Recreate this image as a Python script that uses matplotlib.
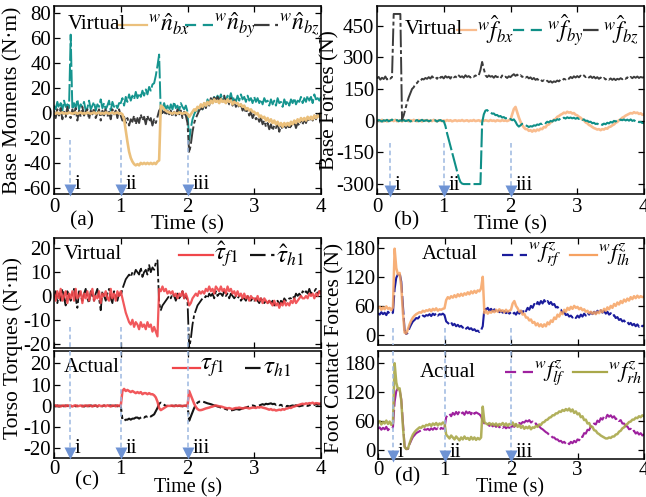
import numpy as np
import matplotlib
matplotlib.use('Agg')
import matplotlib.pyplot as plt
from matplotlib.lines import Line2D

plt.rcParams['font.family'] = ['Liberation Serif', 'DejaVu Serif']
plt.rcParams['mathtext.fontset'] = 'stix'
plt.rcParams['axes.unicode_minus'] = False

DT = 0.025  # sample spacing (s)

# ---------------- (a) virtual base moments ----------------
n_bx = [0,-0.5,0.5,-0.5,0,0.5,-0.5,0,-0.5,0.5,
        0,-0.5,0,0.5,-0.5,0,0.5,-0.5,0,-0.5,
        0.5,0,-0.5,0,0.5,-0.5,0,0.5,-0.5,0,
        -0.5,0.5,0,-0.5,0,0.5,-0.5,0,0.5,-0.5,
        0,-1,-5,-14,-23,-31,-36,-39,-41,-42,
        -41,-42,-40,-41,-40,-41,-40,-41,-40,-41,
        -40,-41,-39,-38,6,5,3,2,1,0.5,
        0,-0.5,0.5,0,-0.5,0.5,0,-0.5,0,0.5,
        -0.5,-3,-1,1,3,2,5,4,7,5,
        8,6,9,7,10,8,11,9,10,8,
        11,9,10,8,11,9,10,7,9,8,
        8,6,7,5,6,3,4,2,3,1,
        1,-1,0,-3,-2,-4,-3,-6,-4,-7,
        -5,-8,-6,-9,-7,-10,-8,-11,-8,-10,
        -8,-10,-7,-9,-6,-8,-5,-7,-4,-6,
        -4,-6,-3,-5,-3,-5,-2,-4,-2,-3,
        -2]
n_by = [6,3,9,4,8,2,10,5,7,4,
        63,3,8,4,11,3,7,5,9,2,
        4,10,3,6,9,2,7,5,11,4,
        8,3,6,10,2,9,5,7,4,8,
        8,12,6,13,9,15,10,14,11,17,
        12,16,13,18,14,19,15,21,18,23,
        24,30,38,47,-1,4,8,3,6,2,
        7,3,9,4,6,2,8,5,3,6,
        1,-22,-12,-5,-1,2,0,4,6,3,
        8,5,11,7,12,8,13,9,14,10,
        15,10,13,9,14,11,16,10,13,9,
        14,10,15,11,13,9,14,10,12,8,
        13,9,12,8,11,7,12,9,10,6,
        11,7,10,6,12,8,9,5,11,7,
        10,6,11,8,12,7,10,9,13,8,
        12,9,14,10,13,8,15,11,12,10,
        13]
n_bz = [2,-4,3,-2,4,-5,1,-3,5,-2,
        -4,3,-1,4,-6,2,-3,5,-2,1,
        3,-5,2,-1,4,-4,0,3,-6,2,
        -2,4,-3,1,-5,3,-1,2,-4,3,
        -2,-6,-3,-8,-4,-10,-5,-7,-2,-9,
        -4,-8,-1,-6,-3,-9,-2,-7,-4,-10,
        -5,-8,-3,2,4,0,3,-2,2,-1,
        2,-3,1,-2,3,-1,2,-4,1,-2,
        -8,-32,-25,-15,-8,-4,-1,2,4,3,
        7,4,9,6,12,8,14,9,13,10,
        12,9,14,8,11,7,12,6,10,5,
        8,4,7,2,5,0,3,-2,1,-4,
        -1,-5,-3,-7,-4,-9,-6,-11,-8,-13,
        -9,-14,-10,-12,-8,-15,-10,-13,-9,-12,
        -8,-13,-10,-11,-7,-12,-8,-10,-6,-9,
        -5,-8,-4,-7,-3,-6,-2,-5,-1,-3,
        -1]

# ---------------- (b) virtual base forces ----------------
f_bx = [0,3,-2,4,-3,1,-4,2,-1,3,
        -2,4,-3,0,2,-4,3,-1,1,-3,
        2,-2,4,-1,-3,3,0,-4,2,-1,
        3,-3,1,-2,4,-1,-3,2,0,-2,
        1,-2,3,-1,2,-3,0,2,-2,1,
        -1,3,-2,0,2,-3,1,-1,3,-2,
        0,2,-3,1,-1,2,0,-2,3,-1,
        1,-3,2,0,-2,3,-1,1,-2,2,
        5,30,55,65,40,15,-5,-20,-32,-40,
        -40,-48,-45,-52,-44,-50,-42,-46,-38,-40,
        -30,-32,-20,-18,-8,-5,5,8,18,22,
        28,32,38,35,42,38,40,34,36,28,
        25,18,14,6,2,-8,-12,-20,-24,-30,
        -35,-38,-42,-40,-45,-40,-42,-36,-38,-30,
        -28,-22,-18,-10,-6,2,6,14,18,24,
        28,32,36,34,40,36,38,32,35,28,
        30]
f_by = [-2,3,0,-4,2,-1,4,-3,1,5,
        -2,0,3,-3,2,-1,4,-2,0,3,
        -4,1,2,-1,3,-3,0,4,-2,1,
        2,-3,0,3,-1,2,-4,1,3,-2,
        -2,-25,-60,-90,-120,-150,-180,-210,-240,-270,
        -290,-298,-300,-300,-300,-300,-300,-300,-300,-300,
        -300,-300,-300,-10,30,48,50,42,40,33,
        34,26,27,20,22,15,17,11,13,7,
        8,2,6,-5,-20,-28,-22,-15,-18,-22,
        -25,-30,-26,-28,-22,-24,-18,-20,-14,-16,
        -9,-12,-5,-8,-1,-4,3,0,7,4,
        11,8,14,10,16,12,15,11,14,9,
        13,8,10,4,6,-1,0,-6,-5,-12,
        -10,-16,-14,-19,-15,-20,-14,-17,-10,-13,
        -6,-9,-1,-4,3,0,5,2,6,1,
        5,0,6,-1,2,-4,-2,-7,-6,-11,
        -10]
f_bz = [200,207,194,203,197,209,195,204,199,206,
        505,505,505,505,505,5,25,55,85,110,
        130,150,158,175,178,190,187,198,195,202,
        198,206,199,210,201,207,198,212,203,208,
        200,211,204,208,199,213,205,209,202,214,
        206,210,203,215,207,211,204,212,208,214,
        209,215,240,278,245,215,206,214,208,211,
        203,212,206,209,200,214,205,208,202,210,
        206,214,220,212,218,209,215,207,212,204,
        208,200,205,196,202,193,198,190,195,187,
        191,184,189,182,187,180,186,183,190,186,
        194,190,198,195,203,198,207,201,210,204,
        211,205,213,207,214,206,212,204,210,202,
        208,200,206,198,204,196,202,195,201,194,
        200,193,199,192,198,195,201,196,203,198,
        205,199,207,201,208,203,209,202,207,204,
        206]

# ---------------- (c) torso torques ----------------
tauV_f1 = [1,-2,2,-1,3,-2,0,2,-3,1,
           -1,2,-2,3,-1,0,2,-3,1,-1,
           2,-2,1,3,-2,0,-1,2,-3,1,
           0,2,-1,-2,3,-1,1,-2,2,0,
           2,-1,-4,-7,-9,-11,-12,-10,-13,-11,
           -12,-14,-11,-13,-12,-14,-11,-13,-12,-15,
           -13,-15,-17,3,2,4,2,3,1,2,
           1,2,0,1,-1,1,0,2,-1,1,
           -1,-4,-3,-1,0,1,0,2,1,2,
           1,3,2,4,2,3,1,4,3,2,
           4,2,3,1,4,2,3,1,2,0,
           2,0,1,-1,1,-1,0,-2,0,-1,
           -1,-2,0,-2,-1,-3,-1,-2,-3,-2,
           -3,-4,-2,-4,-3,-5,-3,-4,-2,-4,
           -3,-4,-2,-3,-1,-3,-2,-1,0,-1,
           -1,0,-1,1,0,1,-1,1,0,2,
           1]
tauV_h1 = [-1,2,-3,1,-2,3,-1,-4,2,0,
           -2,1,3,-1,-5,2,0,-2,1,3,
           -1,-3,2,0,-2,1,3,-1,-6,2,
           0,-2,1,3,-1,-3,2,0,-2,1,
           0,3,5,7,8,9,8,10,9,11,
           10,9,12,8,10,11,9,13,10,12,
           11,14,15,-3,-6,-4,-3,-2,-1,0,
           -1,1,0,-2,1,-1,0,2,-1,0,
           -2,-22,-18,-12,-8,-6,-4,-3,-2,-1,
           -1,0,-1,1,0,1,-1,2,0,1,
           1,0,2,0,1,-1,1,0,-1,0,
           -1,0,-2,-1,-1,-2,0,-1,-2,-1,
           -2,-1,-2,-3,-1,-2,-3,-2,-3,-2,
           -3,-2,-4,-3,-2,-4,-2,-3,-1,-2,
           -2,-1,-1,0,-1,1,0,1,0,2,
           1,2,1,3,1,2,2,3,1,2,
           2]
tauA_f1 = [0,0.3,-0.2,0.2,-0.3,0.1,0.2,-0.2,0.3,-0.1,
           0.2,-0.3,0.1,0.3,-0.2,0,0.2,-0.3,0.1,0.2,
           -0.2,0.3,0,-0.3,0.2,0.1,-0.2,0.3,-0.1,0,
           0.2,-0.2,0.3,0,-0.3,0.2,0.1,-0.2,0.3,0,
           0,7,8,7,7.5,7,6.5,7,6.5,6,
           6.5,6,6.5,5.5,6,6,5.5,6,5.5,5.5,
           5,4,2,-1,-2,-1.5,-1,-0.5,0,0,
           0,0.2,-0.2,0.1,0,0.2,-0.1,0,0.1,0,
           0,7,5,3,1,-0.5,-1.5,-2,-2,-1.8,
           -1.5,-1.2,-1,-0.8,-0.5,-0.3,0,0.2,0,-0.2,
           -0.3,-0.5,-0.8,-1,-1.2,-1,-1.3,-1.5,-1.2,-1,
           -1,-0.8,-1,-1.2,-1,-0.8,-1,-1.2,-1,-0.8,
           -0.8,-1,-0.6,-0.8,-0.5,-0.8,-1,-1.2,-1.5,-1.8,
           -1.5,-2,-1.8,-2.2,-2,-1.8,-2,-1.5,-1.8,-1.3,
           -1.2,-0.8,-1,-0.5,-0.3,0,0.3,0.5,0.8,1,
           0.8,1.2,1,1.3,1.2,1.5,1,1.3,1.2,1,
           1.2]
tauA_h1 = [0,-0.2,0.2,-0.3,0.1,0,-0.2,0.2,-0.1,0.1,
           -0.2,0.1,0.2,-0.2,0,0.3,-0.1,0.1,-0.3,0,
           0.1,-0.2,0.2,0,-0.1,0.2,-0.3,0.1,0,-0.2,
           0.2,0,-0.2,0.1,0.2,-0.1,0,0.2,-0.2,0,
           0,-6.5,-7,-6.5,-6.5,-6,-6.5,-6,-6,-5.5,
           -5.5,-6,-5.5,-5,-5.5,-5,-5,-4.5,-5,-4.5,
           -4,-2.5,-1,1,1.5,1,0.5,0,0,0,
           0.1,-0.1,0,0.2,-0.1,0,0.1,-0.2,0,0.1,
           0,-7,-5,-3,-1,0.5,1.5,2,2,2,
           1.8,1.5,1.2,1,0.8,0.5,0.2,0,-0.3,-0.5,
           -0.8,-1,-1.2,-1.5,-1.8,-2,-2.1,-2,-1.8,-1.5,
           -1.6,-1.8,-1.5,-1.2,-1,-0.8,-0.5,-0.3,0,0.2,
           0,-0.3,0,0.2,0.5,0.8,0.5,1,0.8,1,
           1.2,0.8,1,0.5,0.8,0.3,0.5,0,0.2,-0.2,
           0,-0.3,0,0.2,0,0.3,0,-0.2,0,0.2,
           0,0.2,0,0.3,0.5,0.3,0.5,0.8,0.5,0.8,
           0.5]

# ---------------- (d) foot contact forces ----------------
f_rf = [45,42,47,43,46,41,48,44,43,46,
        95,118,125,128,110,60,10,2,5,15,
        22,28,31,35,34,38,36,40,38,41,
        40,43,39,44,41,45,40,43,42,44,
        41,28,25,22,26,20,23,18,21,17,
        19,15,18,13,16,12,14,10,12,8,
        9,6,10,18,55,52,56,50,54,49,
        53,48,52,47,50,46,49,45,48,44,
        47,43,46,42,48,44,50,46,53,49,
        56,52,60,56,64,60,68,63,70,65,
        72,66,70,64,68,62,64,57,58,52,
        52,46,47,41,43,38,40,36,39,35,
        40,36,42,38,44,40,46,42,47,43,
        48,44,50,45,51,46,50,44,48,42,
        45,39,41,35,37,31,33,28,30,25,
        27,22,25,20,23,18,22,17,21,18,
        20]
f_lh = [55,58,52,57,53,59,54,56,51,57,
        178,138,125,128,100,45,5,3,12,22,
        30,36,40,43,45,47,46,50,48,51,
        50,53,49,54,51,55,50,53,52,54,
        55,72,78,75,80,77,82,78,84,80,
        85,81,86,83,88,84,90,86,91,87,
        92,90,96,120,45,50,44,48,46,50,
        47,52,48,53,49,51,47,52,48,50,
        52,65,70,60,55,48,50,42,44,36,
        36,30,32,25,27,20,24,18,22,17,
        22,18,26,22,30,27,36,33,42,38,
        47,43,52,48,56,52,58,54,60,56,
        58,53,56,51,53,48,50,45,48,44,
        47,43,48,45,51,47,54,50,57,53,
        60,56,64,60,67,63,70,66,73,69,
        75,71,78,74,80,76,81,77,80,78,
        79]
f_lf = [44,47,42,46,43,48,41,45,44,47,
        100,122,128,125,105,55,8,2,2,12,
        20,27,31,35,37,39,41,40,43,42,
        44,41,45,42,46,43,45,41,46,44,
        45,68,72,75,70,77,73,79,74,80,
        75,78,73,80,76,79,74,81,75,78,
        76,74,70,60,55,52,54,50,53,49,
        52,48,51,47,50,46,49,45,48,46,
        47,50,48,53,51,56,54,58,57,61,
        59,62,57,59,54,55,50,49,45,43,
        40,37,35,31,30,26,26,22,22,18,
        19,15,17,13,16,12,17,14,19,16,
        22,20,28,27,35,34,42,41,49,48,
        55,53,61,58,66,63,70,66,73,69,
        72,67,70,64,66,60,62,55,55,49,
        49,43,44,38,40,34,37,32,35,30,
        33]
f_rh = [56,60,53,58,55,61,54,59,52,57,
        180,140,126,128,102,48,6,2,3,14,
        24,32,37,41,44,47,46,50,48,52,
        51,54,50,55,52,56,51,55,53,57,
        56,32,28,24,30,26,22,28,24,20,
        26,22,28,23,25,21,27,22,26,21,
        25,22,26,90,58,55,53,56,52,55,
        51,55,50,54,52,56,51,55,50,54,
        53,57,50,54,48,52,46,50,44,48,
        45,49,43,47,46,50,48,53,52,57,
        58,62,63,67,68,72,72,76,76,80,
        79,83,81,85,82,86,80,84,77,80,
        74,76,68,70,62,63,55,56,48,48,
        41,40,35,33,30,28,26,24,24,26,
        25,28,28,32,33,38,40,45,47,52,
        54,58,59,63,63,67,66,70,68,72,
        70]

event_labels = ['i', 'ii', 'iii']
events_a = [0.245, 1.0, 2.0]
events_b = [0.2, 1.0, 2.0]
events_c = [0.245, 1.0, 2.0]
events_d = [0.22, 1.0, 2.0]

t = np.arange(len(n_bx)) * DT

# colours
C_TAN = '#EBC07C'; C_TEAL = '#16958F'; C_GRAY = '#3C3C3C'
C_PEACH = '#F9BC8E'; C_TEAL2 = '#0F8F87'
C_RED = '#F0464A'; C_BLACK = '#141414'
C_BLUE = '#1B1C9C'; C_ORANGE = '#F6A262'
C_MAG = '#9E219E'; C_OLIVE = '#A9A84A'
C_ARR = '#9DB8E0'; C_ARRH = '#6E93D4'

# legend-sample styles and denser styles for the noisy data traces
DASH = (0, (5, 3))
DASHDOT = (0, (7, 2.5, 1.5, 2.5))
DASH_D = (0, (9, 1.5))
DASHDOT_D = (0, (9, 1.5, 2, 1.5))

W, H = 646, 497
fig = plt.figure(figsize=(W / 100, H / 100), dpi=100)

def rect(l, top, r, bot):
    return [l / W, 1 - bot / H, (r - l) / W, (bot - top) / H]

FS = 15
LFS = 15.5

def style(ax, ylim, yticks, xlabels=True, xpad=3):
    ax.set_xlim(0, 4)
    ax.set_ylim(*ylim)
    ax.set_yticks(yticks)
    ax.set_xticks([0, 1, 2, 3, 4])
    ax.tick_params(direction='in', top=True, right=True, length=4, width=0.9,
                   labelsize=FS, pad=2)
    ax.tick_params(axis='x', pad=xpad)
    if not xlabels:
        ax.set_xticklabels([])
    for s in ax.spines.values():
        s.set_linewidth(1.1)

def legend_item(ax, x0, x1, y, color, ls, label, fs):
    ax.add_line(Line2D([x0, x1], [y, y], transform=ax.transAxes, color=color,
                       ls=ls, lw=1.6, clip_on=False))
    ax.text(x1 + 0.003, y, label, transform=ax.transAxes, fontsize=fs,
            va='center', ha='left')

def arrow_line(ax, x, y0, y1, head=True, label=None, ly=None):
    ax.plot([x, x], [y0, y1], ls=(0, (3, 2)), color=C_ARR, lw=1.1, zorder=5,
            clip_on=False)
    if head:
        ax.plot([x], [y1], marker='v', color=C_ARRH, ms=8, zorder=6,
                clip_on=False, mec='none')
    if label:
        ax.text(x + 0.07, ly, label, fontsize=FS, va='center', ha='left')

# ---------------- (a) ----------------
axa = fig.add_axes(rect(54, 6, 321, 194))
axa.plot(t, n_by, color=C_TEAL, ls=DASH_D, lw=1.4)
axa.plot(t, n_bz, color=C_GRAY, ls=DASHDOT_D, lw=1.4)
axa.plot(t, n_bx, color=C_TAN, lw=1.9)
style(axa, (-65, 86), [-60, -40, -20, 0, 20, 40, 60, 80])
for x, lab in zip(events_a, event_labels):
    arrow_line(axa, x, -22, -61.5, label=lab, ly=-57)
axa.text(0.05, 0.9, 'Virtual', transform=axa.transAxes, fontsize=FS,
         va='center', ha='left')
legend_item(axa, 0.24, 0.35, 0.9, C_TAN, '-', r'${}^{w}\hat{n}_{bx}$', 17)
legend_item(axa, 0.49, 0.595, 0.9, C_TEAL, DASH, r'${}^{w}\hat{n}_{by}$', 17)
legend_item(axa, 0.75, 0.84, 0.9, C_GRAY, DASHDOT, r'${}^{w}\hat{n}_{bz}$', 17)
fig.text(13 / W, 1 - 100 / H, 'Base Moments (N·m)', rotation=90, fontsize=LFS,
         va='center', ha='center')
fig.text(82 / W, 1 - 221 / H, '(a)', fontsize=LFS, va='center', ha='center')
fig.text(188 / W, 1 - 225 / H, 'Time (s)', fontsize=LFS, va='center', ha='center')

# ---------------- (b) ----------------
axb = fig.add_axes(rect(377, 5.5, 644, 194))
axb.plot(t, f_bx, color=C_PEACH, lw=1.9)
axb.plot(t, f_by, color=C_TEAL2, ls=DASH_D, lw=1.5)
axb.plot(t, f_bz, color=C_GRAY, ls=DASHDOT_D, lw=1.4)
style(axb, (-347, 545), [-300, -150, 0, 150, 300, 450])
for x, lab in zip(events_b, event_labels):
    arrow_line(axb, x, -105, -335, label=lab, ly=-305)
axb.text(0.105, 0.872, 'Virtual', transform=axb.transAxes, fontsize=FS,
         va='center', ha='left')
legend_item(axb, 0.30, 0.37, 0.872, C_PEACH, '-', r'${}^{w}\hat{f}_{bx}$', 17)
legend_item(axb, 0.51, 0.635, 0.872, C_TEAL2, DASH, r'${}^{w}\hat{f}_{by}$', 17)
legend_item(axb, 0.77, 0.845, 0.872, C_GRAY, DASHDOT, r'${}^{w}\hat{f}_{bz}$', 17)
fig.text(330 / W, 1 - 100 / H, 'Base Forces (N)', rotation=90, fontsize=LFS,
         va='center', ha='center')
fig.text(407 / W, 1 - 221 / H, '(b)', fontsize=LFS, va='center', ha='center')
fig.text(510 / W, 1 - 225 / H, 'Time (s)', fontsize=LFS, va='center', ha='center')

# ---------------- (c) ----------------
axc1 = fig.add_axes(rect(54, 237.7, 321, 348.3))
axc1.plot(t, tauV_h1, color=C_BLACK, ls=DASHDOT_D, lw=1.3)
axc1.plot(t, tauV_f1, color=C_RED, lw=1.6, alpha=0.9)
style(axc1, (-22, 24.5), [-20, -10, 0, 10, 20], xlabels=False)
axc1.text(0.035, 0.845, 'Virtual', transform=axc1.transAxes, fontsize=FS,
          va='center', ha='left')
legend_item(axc1, 0.47, 0.595, 0.845, C_RED, '-', r'$\hat{\tau}_{f1}$', 18)
legend_item(axc1, 0.735, 0.83, 0.845, C_BLACK, DASHDOT, r'$\hat{\tau}_{h1}$', 18)

axc2 = fig.add_axes(rect(54, 350.7, 321, 458.3))
axc2.plot(t, tauA_h1, color=C_BLACK, ls=DASHDOT_D, lw=1.5)
axc2.plot(t, tauA_f1, color=C_RED, lw=1.8, alpha=0.9)
style(axc2, (-24.7, 26), [-20, -10, 0, 10, 20], xpad=1)
axc2.text(0.035, 0.84, 'Actual', transform=axc2.transAxes, fontsize=FS,
          va='center', ha='left')
legend_item(axc2, 0.445, 0.545, 0.84, C_RED, '-', r'$\tau_{f1}$', 18)
legend_item(axc2, 0.715, 0.78, 0.84, C_BLACK, DASHDOT, r'$\tau_{h1}$', 18)
for x, lab in zip(events_c, event_labels):
    arrow_line(axc1, x, -13, -22, head=False)
    arrow_line(axc2, x, 26, -22.3, label=lab, ly=-20)
fig.text(13 / W, 1 - 348 / H, 'Torso Torques (N·m)', rotation=90, fontsize=LFS,
         va='center', ha='center')
fig.text(87 / W, 1 - 481 / H, '(c)', fontsize=LFS, va='center', ha='center')
fig.text(188 / W, 1 - 488 / H, 'Time (s)', fontsize=14.5, va='center', ha='center')

# ---------------- (d) ----------------
axd1 = fig.add_axes(rect(378, 237.7, 644, 345))
axd1.plot(t, f_rf, color=C_BLUE, ls=DASH_D, lw=1.5)
axd1.plot(t, f_lh, color=C_ORANGE, lw=1.8, alpha=0.85)
style(axd1, (-20.6, 200.6), [0, 60, 120, 180], xlabels=False)
axd1.text(0.165, 0.84, 'Actual', transform=axd1.transAxes, fontsize=FS,
          va='center', ha='left')
legend_item(axd1, 0.466, 0.56, 0.84, C_BLUE, DASH, r'${}^{w}f^{z}_{rf}$', 16.5)
legend_item(axd1, 0.72, 0.823, 0.84, C_ORANGE, '-', r'${}^{w}f^{z}_{lh}$', 16.5)

axd2 = fig.add_axes(rect(378, 350.7, 644, 459.3))
axd2.plot(t, f_lf, color=C_MAG, ls=DASH_D, lw=1.5)
axd2.plot(t, f_rh, color=C_OLIVE, lw=1.8, alpha=0.9)
style(axd2, (-19.3, 206), [0, 60, 120, 180], xpad=1)
axd2.text(0.158, 0.80, 'Actual', transform=axd2.transAxes, fontsize=FS,
          va='center', ha='left')
legend_item(axd2, 0.477, 0.583, 0.80, C_MAG, DASH, r'${}^{w}f^{z}_{lf}$', 16.5)
legend_item(axd2, 0.733, 0.86, 0.80, C_OLIVE, '-', r'${}^{w}f^{z}_{rh}$', 16.5)
for x, lab in zip(events_d, event_labels):
    arrow_line(axd1, x, 15, -20.6, head=False)
    arrow_line(axd2, x, 206, -12, label=lab, ly=-6)
fig.text(335 / W, 1 - 348 / H, 'Foot Contact Forces (N)', rotation=90, fontsize=LFS,
         va='center', ha='center')
fig.text(408 / W, 1 - 477 / H, '(d)', fontsize=LFS, va='center', ha='center')
fig.text(510 / W, 1 - 488 / H, 'Time (s)', fontsize=14.5, va='center', ha='center')

fig.savefig('out.png', dpi=100)
